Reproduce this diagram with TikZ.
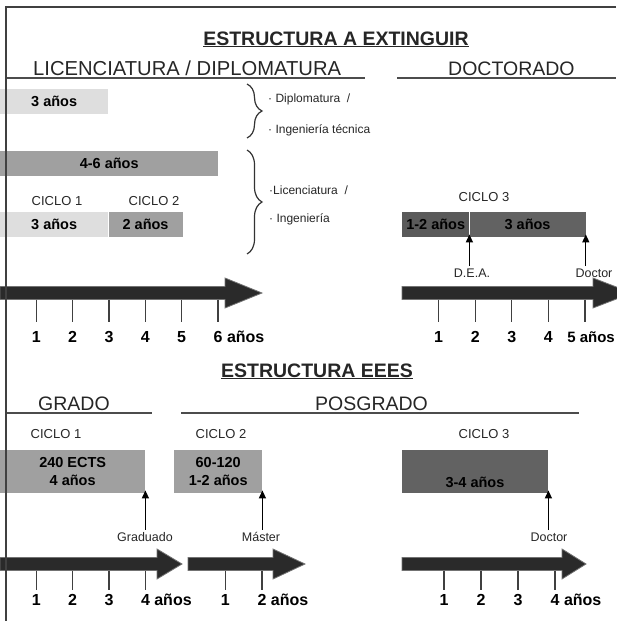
\documentclass[tikz,border=0pt]{standalone}
\usepackage{fontspec}
\setmainfont{Liberation Sans}
\usetikzlibrary{positioning,decorations.pathreplacing,arrows.meta}

\definecolor{claro}{HTML}{DEDEDE}
\definecolor{medio}{HTML}{A0A0A0}
\definecolor{oscuro}{HTML}{626262}
\definecolor{oscurob}{HTML}{5A5A5A}
\definecolor{flecha}{HTML}{2A2A2A}

\tikzset{
	titulo/.style={anchor=base, inner sep=0pt, text=black!85, font=\fontsize{19.5}{22}\selectfont\bfseries},
	seccion/.style={anchor=base west, inner sep=0pt, text=black!85, font=\fontsize{19.5}{22}\selectfont},
	barra/.style={anchor=north west, inner sep=0pt, minimum height=25pt, align=center, font=\fontsize{14.5}{18}\selectfont\bfseries},
	ciclo/.style={anchor=base, text=black!85, font=\fontsize{13}{15}\selectfont},
	nota/.style={anchor=base west, inner sep=0pt, text=black!85, font=\fontsize{12}{14}\selectfont},
	rotulo/.style={anchor=base, inner sep=2pt, text=black!85, font=\fontsize{12.5}{14}\selectfont},
	eje/.style={anchor=base, inner sep=0pt, font=\fontsize{16}{18}\selectfont\bfseries},
	flechaest/.style={fill=flecha, draw=black!55, line width=0.8pt},
	marca/.style={draw=black!75, line width=1.2pt},
	raya/.style={draw=black!70, line width=1.3pt},
	llave/.style={decorate, decoration={brace, amplitude=15pt}, draw=black!80, line width=1.2pt},
	sube/.style={-{Triangle[length=8pt,width=7pt]}, line width=1.3pt, shorten >=-3pt}
}

% flecha de tiempo: x inicio, x base de la punta, x punta, y centro
\newcommand{\flecha}[4]{%
	\filldraw[flechaest] (#1,#4-6.5) -- (#2,#4-6.5) -- (#2,#4-15) -- (#3,#4)
		-- (#2,#4+15) -- (#2,#4+6.5) -- (#1,#4+6.5) -- cycle;}

\begin{document}
\begin{tikzpicture}[x=1pt,y=-1pt]
\useasboundingbox (0,0) rectangle (616,621);

% Estructura a extinguir
\node[titulo] (tit1) at (336,45) {\underline{ESTRUCTURA A EXTINGUIR}};
\node[seccion, font=\fontsize{20.2}{22}\selectfont] (lic) at (33,75) {LICENCIATURA / DIPLOMATURA};
\draw[raya] (6,78) -- (365,78);
\node[seccion] (doc) at (448,75) {DOCTORADO};
\draw[raya] (397,78) -- (616,78);

% Licenciatura / diplomatura
\node[barra, fill=claro, minimum width=108pt] (dip) at (0,89) {3 años};
\node[barra, fill=medio, minimum width=218pt] (lic46) at (0,151) {4-6 años};
\node[ciclo] (c1) at (57,205) {CICLO 1};
\node[ciclo] (c2) at (154,205) {CICLO 2};
\node[barra, fill=claro, minimum width=108pt] (lc1) at (0,212) {3 años};
\node[barra, fill=medio, minimum width=74pt] (lc2) at (lc1.north east) {2 años};

\draw[llave] (247,84) -- (247,138);
\node[nota] (n1) at (268,102) {· Diplomatura~~/};
\node[nota] (n2) at (268,133) {· Ingeniería técnica};
\draw[llave] (247,150) -- (247,254);
\node[nota] (n3) at (269,194) {·Licenciatura~~/};
\node[nota] (n4) at (269,222) {· Ingeniería};

\flecha{0}{225}{262}{293}
\foreach \i in {1,...,6}
	\draw[marca] (36.33*\i,299.5) -- (36.33*\i,322);
\foreach \i in {1,...,5}
	\node[eje] (a\i) at (36.33*\i,342) {\i};
\node[eje, anchor=base west, xshift=-4.5pt] (a6) at (218,342) {6 años};

% Doctorado
\node[ciclo] (c3) at (484,201) {CICLO 3};
\node[barra, fill=oscurob, minimum width=67pt] (c3a) at (402,212) {1-2 años};
\node[barra, fill=oscuro, minimum width=116pt] (c3b) at (c3a.north east) {3 años};
\node[rotulo] (dea) at (472,277) {D.E.A.};
\node[rotulo] (dr1) at (594,277) {Doctor};
\draw[sube] (dea.north -| c3a.east) -- (c3a.south east);
\draw[sube] (dr1.north -| c3b.east) -- (c3b.south east);

\flecha{402}{593}{632}{293}
\foreach \i in {1,...,5}
	\draw[marca] (402+36.6*\i,299.5) -- (402+36.6*\i,322);
\foreach \i in {1,...,4}
	\node[eje] (b\i) at (402+36.6*\i,342) {\i};
\node[eje, anchor=base east, font=\fontsize{15}{18}\selectfont\bfseries] (b5) at (615,342) {5 años};

% Estructura EEES
\node[titulo] (tit2) at (317,377) {\underline{ESTRUCTURA EEES}};
\node[seccion] (gra) at (38,410) {GRADO};
\draw[raya] (6,413) -- (152,413);
\node[seccion] (pos) at (315,410) {POSGRADO};
\draw[raya] (181,413) -- (579,413);

\node[ciclo] (e1) at (56,438) {CICLO 1};
\node[ciclo] (e2) at (221,438) {CICLO 2};
\node[ciclo] (e3) at (484,438) {CICLO 3};
\node[barra, fill=medio, minimum width=145pt, minimum height=43pt] (gr) at (0,450) {240 ECTS\\4 años};
\node[barra, fill=medio, minimum width=88pt, minimum height=43pt] (ms) at (174,450) {60-120\\1-2 años};
\node[barra, fill=oscuro, minimum width=146pt, minimum height=43pt] (dc) at (402,450) {};
\node[eje, font=\fontsize{14.5}{18}\selectfont\bfseries] (dct) at (475,487) {3-4 años};

\node[rotulo] (grad) at (145,541) {Graduado};
\node[rotulo] (mas) at (261,541) {Máster};
\node[rotulo] (dr2) at (549,541) {Doctor};
\draw[sube] (grad.north -| gr.east) -- (gr.south east);
\draw[sube] (mas.north -| ms.east) -- (ms.south east);
\draw[sube] (dr2.north -| dc.east) -- (dc.south east);

\flecha{0}{157}{182}{564}
\foreach \i in {1,...,4}
	\draw[marca] (36.33*\i,570.5) -- (36.33*\i,590);
\foreach \i in {1,...,3}
	\node[eje] (g\i) at (36.33*\i,605) {\i};
\node[eje, anchor=base west, xshift=-4.5pt] (g4) at (145.3,605) {4 años};

\flecha{188}{273}{305}{564}
\foreach \i in {1,2}
	\draw[marca] (188.5+36.7*\i,570.5) -- (188.5+36.7*\i,590);
\node[eje] (m1) at (225.2,605) {1};
\node[eje, anchor=base west, xshift=-4.5pt] (m2) at (261.9,605) {2 años};

\flecha{402}{562}{586}{564}
\foreach \i in {1,...,4}
	\draw[marca] (407+37*\i,570.5) -- (407+37*\i,590);
\foreach \i in {1,...,3}
	\node[eje] (p\i) at (407+37*\i,605) {\i};
\node[eje, anchor=base west, xshift=-4.5pt] (p4) at (555,605) {4 años};

% marco
\draw[draw=black!75, line width=1.5pt] (616,7) -- (6,7) -- (6,621);
\end{tikzpicture}
\end{document}
